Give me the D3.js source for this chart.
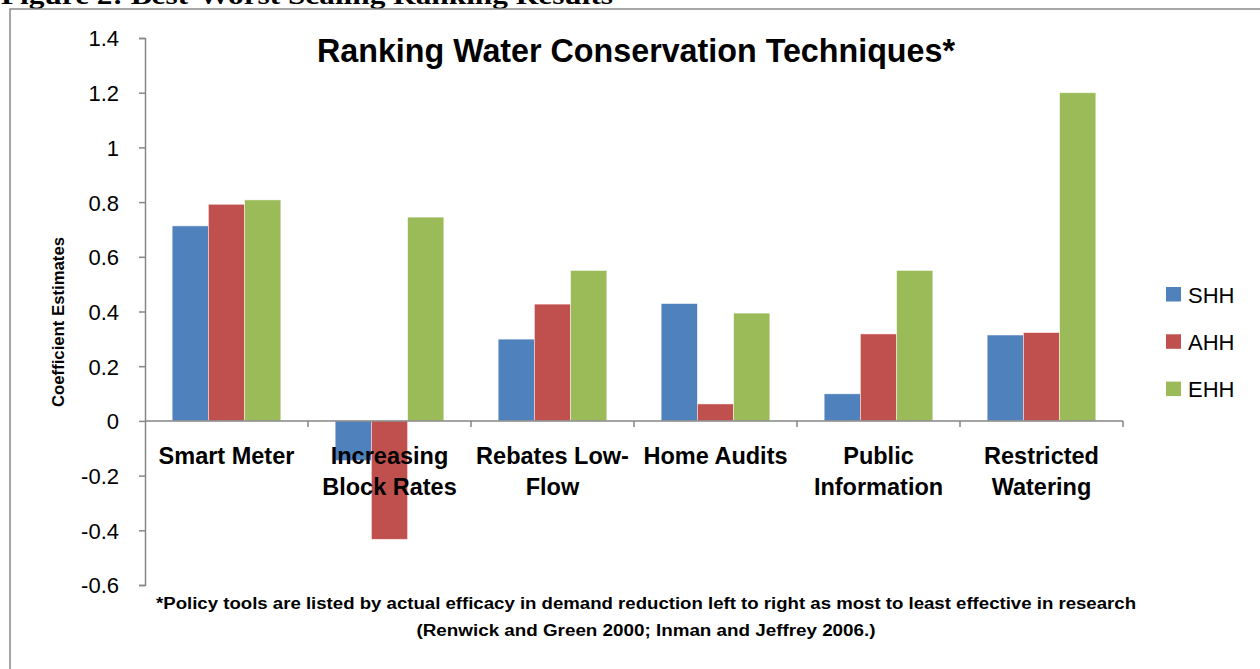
<!DOCTYPE html>
<html>
<head>
<meta charset="utf-8">
<script src="https://cdn.jsdelivr.net/npm/d3@7"></script>
<style>
  html, body { margin: 0; padding: 0; background: #fff; }
  svg { display: block; font-family: "Liberation Sans", Arial, sans-serif; }
</style>
</head>
<body>
<svg id="chart" width="1260" height="669"></svg>
<script>
// Categories (most to least effective, left to right)
const categories = [
  ["Smart Meter"],
  ["Increasing", "Block Rates"],
  ["Rebates Low-", "Flow"],
  ["Home Audits"],
  ["Public", "Information"],
  ["Restricted", "Watering"]
];
const seriesNames = ["SHH", "AHH", "EHH"];
const shh = [0.713, -0.145, 0.299, 0.429, 0.099, 0.314];
const ahh = [0.792, -0.433, 0.427, 0.062, 0.318, 0.323];
const ehh = [0.808, 0.745, 0.550, 0.394, 0.550, 1.200];
const yTicks = [-0.6, -0.4, -0.2, 0, 0.2, 0.4, 0.6, 0.8, 1, 1.2, 1.4];
const yTickLabels = ["-0.6", "-0.4", "-0.2", "0", "0.2", "0.4", "0.6", "0.8", "1", "1.2", "1.4"];
const colors = ["#4F81BD", "#C0504D", "#9BBB59"];

const seriesValues = [shh, ahh, ehh];
const catKeys = categories.map(c => c.join(" "));

const svg = d3.select("#chart");
const axisColor = "#868686";

// Page header (partly above the visible area) and frame
svg.append("text")
  .attr("x", 1).attr("y", 4)
  .attr("font-family", "'Liberation Serif', 'Times New Roman', serif")
  .attr("font-weight", "bold").attr("font-size", 26)
  .attr("textLength", 612).attr("lengthAdjust", "spacingAndGlyphs")
  .text("Figure 2: Best-Worst Scaling Ranking Results");

svg.append("rect")
  .attr("x", 10).attr("y", 9).attr("width", 1300).attr("height", 700)
  .attr("fill", "none").attr("stroke", "#8a8a8a").attr("stroke-width", 1.5);

// Scales
const x0 = d3.scaleBand().domain(catKeys).range([145, 1123]).paddingInner(0).paddingOuter(0);
const x1 = d3.scaleBand().domain(seriesNames).range([0, x0.bandwidth()]).paddingInner(0).paddingOuter(0.75);
const y = d3.scaleLinear().domain([-0.6, 1.4]).range([585, 38]);

// Bars
seriesNames.forEach((name, si) => {
  svg.append("g").selectAll("rect")
    .data(seriesValues[si])
    .join("rect")
    .attr("x", (d, i) => x0(catKeys[i]) + x1(name))
    .attr("y", d => y(Math.max(0, d)))
    .attr("width", x1.bandwidth())
    .attr("height", d => Math.abs(y(d) - y(0)))
    .attr("fill", colors[si])
    .attr("stroke", "rgba(255,255,255,0.6)")
    .attr("stroke-width", 0.8);
});

// Y axis
const yAxis = d3.axisLeft(y).tickValues(yTicks).tickSize(6).tickPadding(20)
  .tickFormat((d, i) => yTickLabels[i]);
const yg = svg.append("g").attr("transform", "translate(145,0)").call(yAxis);
yg.select(".domain").attr("stroke", axisColor).attr("stroke-width", 1.5);
yg.selectAll(".tick line").attr("stroke", axisColor).attr("stroke-width", 1.5);
yg.selectAll(".tick text")
  .attr("font-family", "'Liberation Sans', Arial, sans-serif")
  .attr("font-size", 22).attr("fill", "#000").attr("dy", "0.36em");

// X axis at zero, with tick marks at category boundaries
const xg = svg.append("g");
xg.append("line")
  .attr("x1", 145).attr("x2", 1123).attr("y1", y(0)).attr("y2", y(0))
  .attr("stroke", axisColor).attr("stroke-width", 1.5);
const bounds = catKeys.map(k => x0(k)).concat([x0(catKeys[catKeys.length - 1]) + x0.bandwidth()]);
xg.selectAll("line.tk").data(bounds.slice(1)).join("line")
  .attr("class", "tk")
  .attr("x1", d => d).attr("x2", d => d)
  .attr("y1", y(0)).attr("y2", y(0) + 6)
  .attr("stroke", axisColor).attr("stroke-width", 1.5);

// Category labels
const lab = svg.append("g")
  .attr("font-weight", "bold").attr("font-size", 23.5).attr("text-anchor", "middle");
categories.forEach((lines, i) => {
  const cx = x0(catKeys[i]) + x0.bandwidth() / 2;
  lines.forEach((t, j) => {
    lab.append("text").attr("x", cx).attr("y", 464 + j * 31).text(t);
  });
});

// Title
svg.append("text")
  .attr("x", 636).attr("y", 62).attr("text-anchor", "middle")
  .attr("font-weight", "bold").attr("font-size", 33)
  .attr("textLength", 638).attr("lengthAdjust", "spacingAndGlyphs")
  .text("Ranking Water Conservation Techniques*");

// Y axis title
svg.append("text")
  .attr("transform", "translate(64,322) rotate(-90)")
  .attr("text-anchor", "middle")
  .attr("font-weight", "bold").attr("font-size", 16)
  .attr("textLength", 170).attr("lengthAdjust", "spacingAndGlyphs")
  .text("Coefficient Estimates");

// Legend
const legend = svg.append("g");
seriesNames.forEach((name, i) => {
  const ly = 287 + i * 47.3;
  legend.append("rect")
    .attr("x", 1166).attr("y", ly).attr("width", 15).attr("height", 14.5)
    .attr("fill", colors[i]);
  legend.append("text")
    .attr("x", 1188).attr("y", ly + 15.5)
    .attr("font-size", 22)
    .text(name);
});

// Footnote
const notes = [
  ["*Policy tools are listed by actual efficacy in demand reduction left to right as most to least effective in research", 609, 980],
  ["(Renwick and Green 2000; Inman and Jeffrey 2006.)", 636, 459]
];
notes.forEach(([t, ny, w]) => {
  svg.append("text")
    .attr("x", 646).attr("y", ny).attr("text-anchor", "middle")
    .attr("font-weight", "bold").attr("font-size", 16)
    .attr("textLength", w).attr("lengthAdjust", "spacingAndGlyphs")
    .text(t);
});
</script>
</body>
</html>
